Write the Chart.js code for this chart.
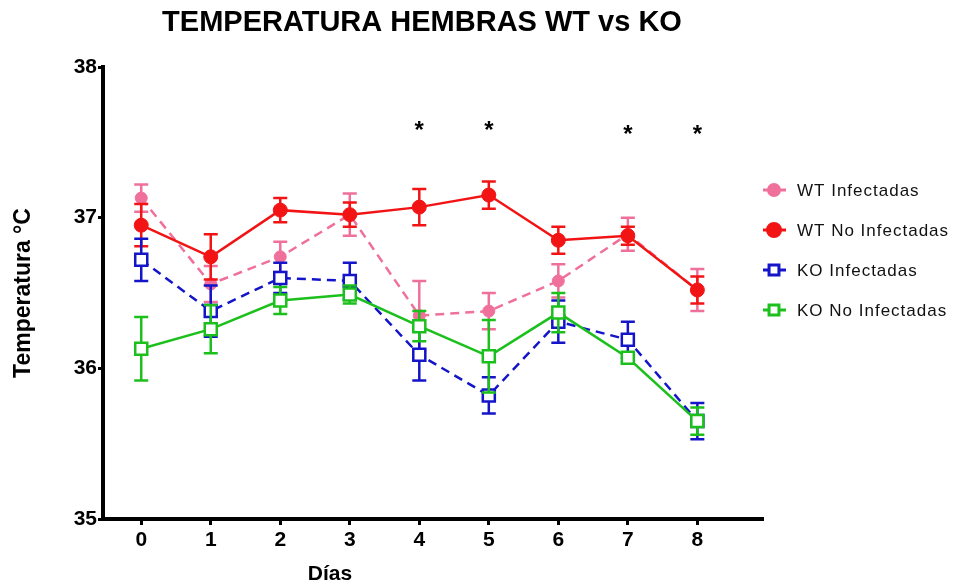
<!DOCTYPE html>
<html>
<head>
<meta charset="utf-8">
<script src="https://cdn.jsdelivr.net/npm/chart.js@4/dist/chart.umd.min.js"></script>
<style>
  html, body { margin: 0; padding: 0; background: #fff; }
  #wrap { width: 955px; height: 586px; }
</style>
</head>
<body>
<div id="wrap"><canvas id="chart"></canvas></div>
<script>
const DAYS = [0, 1, 2, 3, 4, 5, 6, 7, 8];
const Y_TICKS = [35, 36, 37, 38];

const WT_INF       = [37.13, 36.56, 36.74, 37.02, 36.35, 36.38, 36.58, 36.89, 36.52];
const WT_INF_ERR   = [0.09, 0.12, 0.10, 0.14, 0.23, 0.12, 0.11, 0.11, 0.14];
const WT_NOINF     = [36.95, 36.74, 37.05, 37.02, 37.07, 37.15, 36.85, 36.88, 36.52];
const WT_NOINF_ERR = [0.14, 0.15, 0.08, 0.08, 0.12, 0.09, 0.09, 0.06, 0.09];
const KO_INF       = [36.72, 36.38, 36.60, 36.58, 36.09, 35.82, 36.31, 36.19, 35.65];
const KO_INF_ERR   = [0.14, 0.17, 0.10, 0.12, 0.17, 0.12, 0.14, 0.12, 0.12];
const KO_NOINF     = [36.13, 36.26, 36.45, 36.49, 36.28, 36.08, 36.37, 36.07, 35.65];
const KO_NOINF_ERR = [0.21, 0.16, 0.09, 0.06, 0.10, 0.24, 0.13, 0.03, 0.09];

// days with significant difference and the level the asterisk sits at
const STAR_DAYS  = [4, 5, 7, 8];
const STAR_LEVEL = [37.59, 37.59, 37.56, 37.56];

const ERRORS = [WT_INF_ERR, WT_NOINF_ERR, KO_INF_ERR, KO_NOINF_ERR];

const FONT = "'Liberation Sans', Arial, sans-serif";

const toXY = vals => vals.map((v, i) => ({ x: DAYS[i], y: v }));

const errorBars = {
  id: 'errorBars',
  beforeDatasetDraw(chart, args) {
    const ds = chart.data.datasets[args.index];
    const errs = ERRORS[args.index];
    const { ctx } = chart;
    const xs = chart.scales.x, ys = chart.scales.y;
    ctx.save();
    ctx.strokeStyle = ds.borderColor;
    ctx.lineWidth = 2.5;
    ctx.setLineDash([]);
    ds.data.forEach((p, i) => {
      const px = xs.getPixelForValue(p.x);
      const top = ys.getPixelForValue(p.y + errs[i]);
      const bot = ys.getPixelForValue(p.y - errs[i]);
      ctx.beginPath();
      ctx.moveTo(px, top); ctx.lineTo(px, bot);
      ctx.moveTo(px - 7, top); ctx.lineTo(px + 7, top);
      ctx.moveTo(px - 7, bot); ctx.lineTo(px + 7, bot);
      ctx.stroke();
    });
    ctx.restore();
  },
};

const decorations = {
  id: 'decorations',
  afterDraw(chart) {
    const { ctx } = chart;
    const xs = chart.scales.x, ys = chart.scales.y;
    ctx.save();

    // title
    ctx.fillStyle = '#000';
    ctx.font = `bold 29px ${FONT}`;
    ctx.textAlign = 'center';
    ctx.textBaseline = 'middle';
    ctx.fillText('TEMPERATURA HEMBRAS WT vs KO', 422, 23);

    // x axis title
    ctx.font = `bold 21px ${FONT}`;
    ctx.fillText('Días', 330, 574);

    // asterisks
    ctx.font = `bold 24px ${FONT}`;
    ctx.textBaseline = 'alphabetic';
    STAR_DAYS.forEach((d, i) => {
      ctx.fillText('*', xs.getPixelForValue(d), ys.getPixelForValue(STAR_LEVEL[i]) + 9);
    });

    // legend
    ctx.textAlign = 'left';
    ctx.textBaseline = 'middle';
    ctx.font = `17px ${FONT}`;
    ctx.letterSpacing = '1px';
    chart.data.datasets.forEach((ds, i) => {
      const y = 190 + 40 * i;
      ctx.strokeStyle = ds.borderColor;
      ctx.lineWidth = 3;
      ctx.setLineDash([]);
      ctx.beginPath();
      ctx.moveTo(763, y); ctx.lineTo(786, y);
      ctx.stroke();
      ctx.fillStyle = ds.pointBackgroundColor;
      Chart.helpers.drawPoint(ctx, {
        pointStyle: ds.pointStyle,
        radius: ds.pointStyle === 'rect' ? 7 : ds.pointRadius - 0.5,
        rotation: 0,
        borderWidth: ds.pointBorderWidth,
      }, 774, y);
      ctx.fillStyle = '#111';
      ctx.fillText(ds.label, 797, y + 1);
    });
    ctx.restore();
  },
};

new Chart(document.getElementById('chart'), {
  type: 'line',
  data: {
    datasets: [
      {
        label: 'WT Infectadas',
        data: toXY(WT_INF),
        order: 4,
        borderColor: '#f0709c',
        backgroundColor: '#f0709c',
        pointBackgroundColor: '#f0709c',
        pointBorderColor: '#f0709c',
        pointStyle: 'circle',
        pointRadius: 6,
        pointBorderWidth: 1,
        borderWidth: 2.5,
        borderDash: [9, 6],
      },
      {
        label: 'WT No Infectadas',
        data: toXY(WT_NOINF),
        order: 3,
        borderColor: '#f21414',
        backgroundColor: '#f21414',
        pointBackgroundColor: '#f21414',
        pointBorderColor: '#f21414',
        pointStyle: 'circle',
        pointRadius: 7,
        pointBorderWidth: 1,
        borderWidth: 2.5,
      },
      {
        label: 'KO Infectadas',
        data: toXY(KO_INF),
        order: 2,
        borderColor: '#1414c8',
        backgroundColor: '#1414c8',
        pointBackgroundColor: '#ffffff',
        pointBorderColor: '#1414c8',
        pointStyle: 'rect',
        pointRadius: 8.5,
        pointBorderWidth: 2.5,
        borderWidth: 2.5,
        borderDash: [9, 6],
      },
      {
        label: 'KO No Infectadas',
        data: toXY(KO_NOINF),
        order: 1,
        borderColor: '#1cc01c',
        backgroundColor: '#1cc01c',
        pointBackgroundColor: '#ffffff',
        pointBorderColor: '#1cc01c',
        pointStyle: 'rect',
        pointRadius: 8.5,
        pointBorderWidth: 2.5,
        borderWidth: 2.5,
      },
    ],
  },
  options: {
    responsive: true,
    maintainAspectRatio: false,
    animation: false,
    layout: { padding: { top: 67, right: 193, left: 0, bottom: 0 } },
    plugins: {
      legend: { display: false },
      tooltip: { enabled: false },
    },
    scales: {
      x: {
        type: 'linear',
        min: -0.55,
        max: 8.93,
        afterBuildTicks: s => { s.ticks = DAYS.map(v => ({ value: v })); },
        afterFit: s => { s.height = 67; },
        ticks: { color: '#000', font: { family: FONT, size: 21, weight: 'bold' }, padding: 3 },
        grid: { drawOnChartArea: false, drawTicks: true, tickLength: 6, color: '#000', lineWidth: 3 },
        border: { color: '#000', width: 4 },
      },
      y: {
        type: 'linear',
        min: 35,
        max: 38,
        afterBuildTicks: s => { s.ticks = Y_TICKS.map(v => ({ value: v })); },
        afterFit: s => { s.width = 103; },
        ticks: { color: '#000', font: { family: FONT, size: 21, weight: 'bold' }, padding: 1 },
        grid: { drawOnChartArea: false, drawTicks: true, tickLength: 5, color: '#000', lineWidth: 3 },
        border: { color: '#000', width: 4 },
        title: {
          display: true,
          text: 'Temperatura °C',
          color: '#000',
          font: { family: FONT, size: 23, weight: 'bold' },
          padding: { top: 10, bottom: 0 },
        },
      },
    },
  },
  plugins: [errorBars, decorations],
});
</script>
</body>
</html>
